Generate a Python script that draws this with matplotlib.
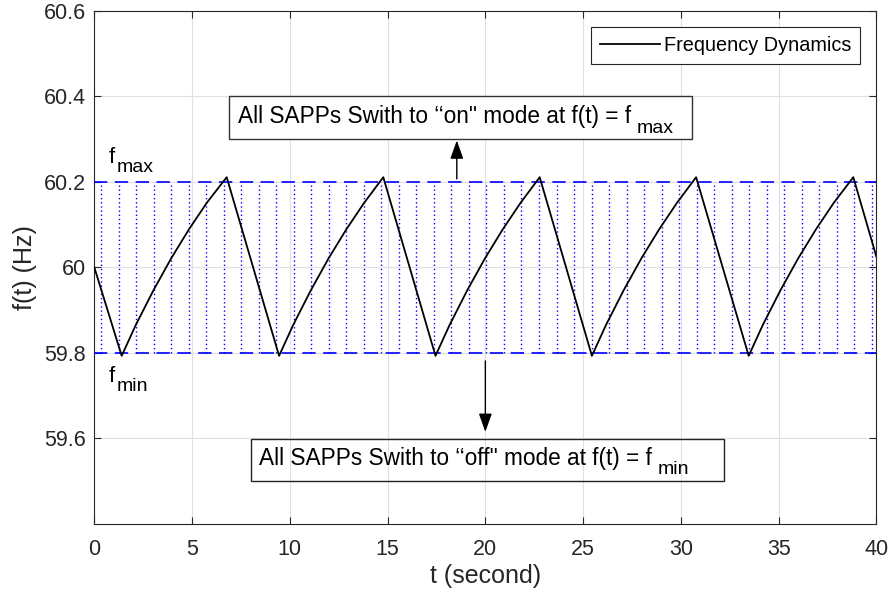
import matplotlib
matplotlib.use('Agg')
import matplotlib.pyplot as plt
from matplotlib.patches import Rectangle

# ---------------- data ----------------
t = [0.00, 1.40, 2.13, 3.02, 3.93, 4.84, 5.75, 6.77,
     9.45, 10.18, 11.07, 11.98, 12.89, 13.80, 14.78,
     17.45, 18.18, 19.07, 19.98, 20.89, 21.80, 22.78,
     25.45, 26.18, 27.07, 27.98, 28.89, 29.80, 30.78,
     33.47, 34.20, 35.09, 36.00, 36.91, 37.82, 38.82,
     40.00]
freq = [60.000, 59.793, 59.866, 59.946, 60.021, 60.089, 60.151, 60.211,
        59.793, 59.866, 59.946, 60.021, 60.089, 60.151, 60.211,
        59.793, 59.866, 59.946, 60.021, 60.089, 60.151, 60.211,
        59.793, 59.866, 59.946, 60.021, 60.089, 60.151, 60.211,
        59.793, 59.866, 59.946, 60.021, 60.089, 60.151, 60.211,
        60.025]
f_min = 59.8
f_max = 60.2
switch_times = [0.34, 1.24, 2.13, 3.03, 3.92, 4.82, 5.72, 6.61, 7.51, 8.40,
                9.30, 10.20, 11.09, 11.99, 12.88, 13.78, 14.68, 15.57, 16.47,
                17.36, 18.26, 19.16, 20.05, 20.95, 21.84, 22.74, 23.64, 24.53,
                25.43, 26.32, 27.22, 28.12, 29.01, 29.91, 30.80, 31.70, 32.60,
                33.49, 34.39, 35.28, 36.18, 37.08, 37.97, 38.87, 39.76]
xticks = [0, 5, 10, 15, 20, 25, 30, 35, 40]
yticks = [59.6, 59.8, 60.0, 60.2, 60.4, 60.6]
ytick_labels = ['59.6', '59.8', '60', '60.2', '60.4', '60.6']
legend_label = 'Frequency Dynamics'
on_text = 'All SAPPs Swith to \u2018\u2018on" mode at f(t) = f'
off_text = 'All SAPPs Swith to \u2018\u2018off" mode at f(t) = f'

# ---------------- style ----------------
plt.rcParams['font.family'] = ['Liberation Sans', 'DejaVu Sans']
axc = '#262626'

fig = plt.figure(figsize=(8.89, 5.98), dpi=100)
ax = fig.add_axes([0.1061, 0.1242, 0.8797, 0.8574])

ax.set_xlim(0, 40)
ax.set_ylim(59.4, 60.6)

ax.grid(True, color='#e0e0e0', lw=0.8)
ax.set_axisbelow(True)

# dotted switching lines
ax.vlines(switch_times, f_min, f_max, colors='blue', linestyles=(0, (1, 2.0)), lw=1.0, zorder=2)
# dashed thresholds
ax.axhline(f_max, color='blue', ls=(0, (8, 4.5)), lw=1.2, zorder=3)
ax.axhline(f_min, color='blue', ls=(0, (8, 4.5)), lw=1.2, zorder=3)

ax.plot(t, freq, color='black', lw=1.3, label=legend_label, zorder=4)

ax.set_xticks(xticks)
ax.set_xticklabels([str(v) for v in xticks])
ax.set_yticks(yticks)
ax.set_yticklabels(ytick_labels)
ax.tick_params(direction='in', length=5, width=0.8, colors=axc, labelsize=15.5,
               top=True, right=True)
ax.tick_params(axis='x', pad=11)
ax.tick_params(axis='y', pad=6)
for s in ax.spines.values():
    s.set_color(axc)
    s.set_linewidth(0.8)

ax.set_xlabel('t (second)', fontsize=18, color=axc, labelpad=3)
ax.set_ylabel('f(t) (Hz)', fontsize=18, color=axc, labelpad=5)

leg = ax.legend(loc='upper right', bbox_to_anchor=(0.9792, 0.968), borderaxespad=0,
                fontsize=14.3, frameon=True, fancybox=False, edgecolor=axc,
                framealpha=1, handlelength=3.0, handletextpad=0.2, borderpad=0.45)
leg.get_frame().set_linewidth(0.8)

# f_max / f_min labels
tf1 = ax.text(0.75, 60.244, 'f', fontsize=16, color='black', va='baseline', ha='left')
ax.annotate('max', xy=(1, 0), xycoords=tf1, xytext=(1, -6), textcoords='offset points',
            fontsize=14, va='bottom', ha='left')
tf2 = ax.text(0.75, 59.732, 'f', fontsize=16, color='black', va='baseline', ha='left')
ax.annotate('min', xy=(1, 0), xycoords=tf2, xytext=(1, -6), textcoords='offset points',
            fontsize=14, va='bottom', ha='left')

# upper annotation box (white filled)
ax.add_patch(Rectangle((6.905, 60.300), 30.59 - 6.905, 0.100, facecolor='white',
                       edgecolor='#333333', lw=1.0, zorder=5))
tb1 = ax.text(7.35, 60.337, on_text, fontsize=16.3, color='black', va='baseline', ha='left', zorder=6)
ax.annotate('max', xy=(1, 0), xycoords=tb1, xytext=(4, -6), textcoords='offset points',
            fontsize=14, va='bottom', ha='left', zorder=6)

# lower annotation box (transparent)
ax.add_patch(Rectangle((8.0, 59.501), 32.23 - 8.0, 0.097, facecolor='none',
                       edgecolor='#222222', lw=1.0, zorder=5))
tb2 = ax.text(8.44, 59.538, off_text, fontsize=16.3, color='black', va='baseline', ha='left', zorder=6)
ax.annotate('min', xy=(1, 0), xycoords=tb2, xytext=(4, -6), textcoords='offset points',
            fontsize=14, va='bottom', ha='left', zorder=6)

# arrows
ax.annotate('', xy=(18.54, 60.297), xytext=(18.54, 60.207),
            arrowprops=dict(arrowstyle='-|>,head_length=0.7,head_width=0.25', color='black', lw=1.0,
                            mutation_scale=16, shrinkA=0, shrinkB=0), zorder=6)
ax.annotate('', xy=(20.0, 59.615), xytext=(20.0, 59.781),
            arrowprops=dict(arrowstyle='-|>,head_length=0.7,head_width=0.25', color='black', lw=1.0,
                            mutation_scale=16, shrinkA=0, shrinkB=0), zorder=6)

fig.savefig('out.png', dpi=100)
